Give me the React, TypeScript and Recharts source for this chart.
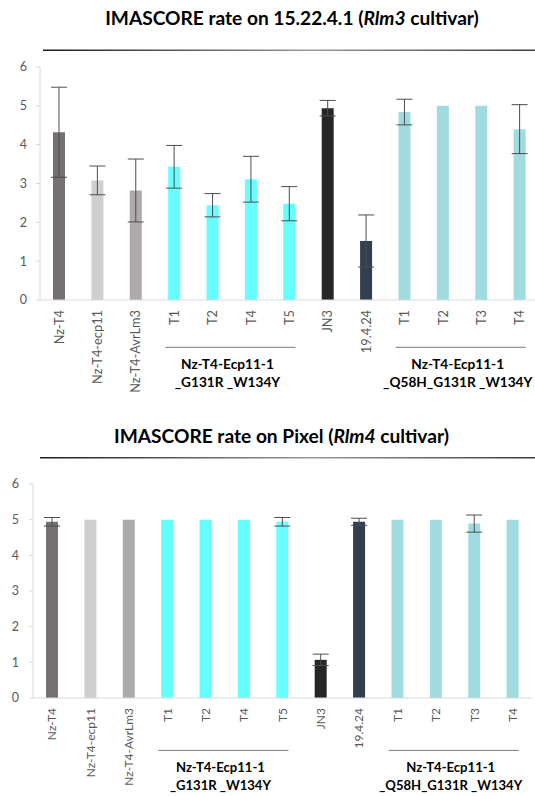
import React from 'react';
import { BarChart, Bar, XAxis, YAxis, ErrorBar, Cell } from 'recharts';

const categories = ['Nz-T4', 'Nz-T4-ecp11', 'Nz-T4-AvrLm3', 'T1', 'T2', 'T4', 'T5', 'JN3', '19.4.24', 'T1', 'T2', 'T3', 'T4'];
const barColors = ['#767171', '#d0cece', '#aeaaaa', '#66ffff', '#66ffff', '#66ffff', '#66ffff', '#262626', '#323f4f', '#a0dcdf', '#a0dcdf', '#a0dcdf', '#a0dcdf'];

const rlm3Means = [4.32, 3.08, 2.82, 3.43, 2.44, 3.11, 2.48, 4.94, 1.52, 4.84, 5, 5, 4.4];
const rlm3Err = [1.16, 0.37, 0.81, 0.55, 0.3, 0.59, 0.44, 0.2, 0.67, 0.33, 0, 0, 0.63];

const rlm4Means = [4.94, 5, 5, 5, 5, 5, 4.94, 1.07, 4.94, 5, 5, 4.89, 5];
const rlm4Err = [0.12, 0, 0, 0, 0, 0, 0.12, 0.16, 0.1, 0, 0, 0.24, 0];

const yTicks = [0, 1, 2, 3, 4, 5, 6];

const groups = [
  { from: 3, to: 6, lines: ['Nz-T4-Ecp11-1', '_G131R _W134Y'] },
  { from: 9, to: 12, lines: ['Nz-T4-Ecp11-1', '_Q58H_G131R _W134Y'] },
];

const FONT = 'Lato, "Open Sans", sans-serif';
const PLOT_W = 499;
const BAND = PLOT_W / categories.length;
const X_AXIS_H = 130;

// pick a font size so that a bold text has the width it has in the picture
const fitSize = (text: string, target: number, fallback: number) => {
  try {
    const ctx = document.createElement('canvas').getContext('2d');
    if (!ctx) return fallback;
    ctx.font = `bold 100px ${FONT}`;
    const w = ctx.measureText(text).width;
    return w > 0 ? (100 * target) / w : fallback;
  } catch (e) {
    return fallback;
  }
};

const buildRows = (means: number[], errs: number[]) =>
  categories.map((name, i) => ({ name, value: means[i], err: errs[i] }));

const makeTick = (axisY: number, lineOffset: number, labelSize: number, groupSize: number) => (props: any) => {
  const { x, payload, index } = props;
  const g = groups.find((gr) => gr.from === index);
  let extra = null;
  if (g) {
    const x1 = x - 9;
    const x2 = x + BAND * (g.to - g.from) + 6;
    const cx = (x1 + x2) / 2 - 3;
    const ly = axisY + lineOffset;
    extra = (
      <g>
        <line x1={x1} x2={x2} y1={ly} y2={ly} stroke="#7a7a7a" strokeWidth={1} />
        {g.lines.map((l, li) => (
          <text key={li} x={cx} y={ly + 22 + li * 17.5} textAnchor="middle" fontSize={groupSize} fontWeight={700} fill="#000" fontFamily={FONT}>
            {l}
          </text>
        ))}
      </g>
    );
  }
  return (
    <g>
      <g transform={`translate(${x},${axisY + 10})`}>
        <text transform="rotate(-90)" textAnchor="end" dy="0.35em" fontSize={labelSize} fill="#595959" fontFamily={FONT}>
          {payload.value}
        </text>
      </g>
      {extra}
    </g>
  );
};

interface PanelProps {
  top: number;
  plotTop: number;
  plotHeight: number;
  axisWidth: number;
  groupLineOffset: number;
  labelSize: number;
  groupSize: number;
  means: number[];
  errs: number[];
  tickMargin: number;
}

const Panel = (p: PanelProps) => {
  const rows = buildRows(p.means, p.errs);
  const marginTop = p.plotTop - p.top;
  const axisY = marginTop + p.plotHeight;
  const Tick = makeTick(axisY, p.groupLineOffset, p.labelSize, p.groupSize);
  return (
    <div style={{ position: 'absolute', left: 0, top: p.top }}>
      <BarChart
        width={p.axisWidth + PLOT_W + 1}
        height={axisY + X_AXIS_H}
        data={rows}
        margin={{ top: marginTop, right: 1, left: 0, bottom: 0 }}
      >
        <XAxis
          dataKey="name"
          interval={0}
          height={X_AXIS_H}
          tickLine={false}
          tick={<Tick />}
          axisLine={{ stroke: '#d9d9d9' }}
        />
        <YAxis
          domain={[0, 6]}
          ticks={yTicks}
          width={p.axisWidth}
          tickSize={4}
          tickMargin={p.tickMargin}
          tickLine={{ stroke: '#d9d9d9' }}
          axisLine={{ stroke: '#d9d9d9' }}
          tick={{ fill: '#595959', fontSize: 12.5, fontFamily: FONT }}
        />
        <Bar dataKey="value" barSize={12} isAnimationActive={false}>
          {rows.map((r, i) => (
            <Cell key={i} fill={barColors[i]} />
          ))}
          <ErrorBar dataKey="err" width={8} stroke="#4d4d4d" strokeWidth={1} />
        </Bar>
      </BarChart>
    </div>
  );
};

export default function App() {
  const title1 = 'IMASCORE rate on 15.22.4.1 (Rlm3 cultivar)';
  const title2 = 'IMASCORE rate on Pixel (Rlm4 cultivar)';
  const t1Size = fitSize(title1, 376, 20);
  const t2Size = fitSize(title2, 337, 20);
  const grp1 = fitSize('Nz-T4-Ecp11-1', 93, 13.5);
  const grp2 = fitSize('Nz-T4-Ecp11-1', 89, 13);
  return (
    <div style={{ position: 'fixed', left: 0, top: 0, width: 535, height: 796, overflow: 'hidden', background: '#fff' }}>
      <Panel
        top={0}
        plotTop={67}
        plotHeight={233}
        axisWidth={40}
        groupLineOffset={47.3}
        labelSize={12.8}
        groupSize={grp1}
        means={rlm3Means}
        errs={rlm3Err}
        tickMargin={9}
      />
      <Panel
        top={440}
        plotTop={484}
        plotHeight={214}
        axisWidth={33}
        groupLineOffset={52.4}
        labelSize={12}
        groupSize={grp2}
        means={rlm4Means}
        errs={rlm4Err}
        tickMargin={10}
      />
      <svg width={535} height={796} style={{ position: 'absolute', left: 0, top: 0, pointerEvents: 'none' }}>
        <defs>
          <linearGradient id="rule" x1="0" x2="1" y1="0" y2="0">
            <stop offset="0" stopColor="#1a1a1a" />
            <stop offset="0.55" stopColor="#9a9a9a" />
            <stop offset="1" stopColor="#3a3a3a" />
          </linearGradient>
        </defs>
        <text x={292} y={25} textAnchor="middle" fontFamily={FONT} fontWeight={700} fontSize={t1Size} fill="#000">
          IMASCORE rate on 15.22.4.1 (<tspan fontStyle="italic">Rlm3</tspan> cultivar)
        </text>
        <rect x={43} y={49.5} width={492} height={1.5} fill="url(#rule)" />
        <text x={281.5} y={443} textAnchor="middle" fontFamily={FONT} fontWeight={700} fontSize={t2Size} fill="#000">
          IMASCORE rate on Pixel (<tspan fontStyle="italic">Rlm4</tspan> cultivar)
        </text>
        <rect x={40} y={457} width={495} height={1.5} fill="url(#rule)" />
      </svg>
    </div>
  );
}
